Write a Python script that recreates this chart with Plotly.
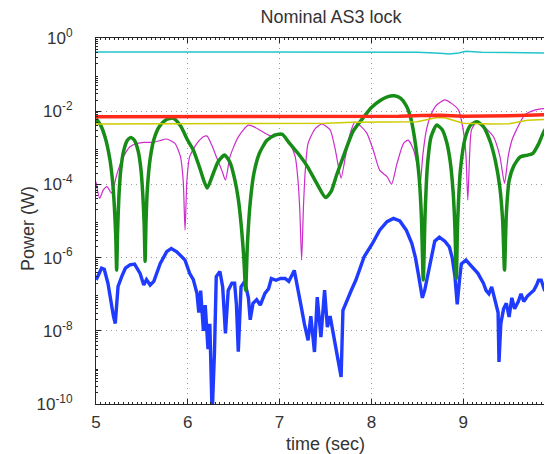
import plotly.graph_objects as go

# ---------------- data (powers as log10 exponents) ----------------
cyan_t = [5.0, 5.5, 6.0, 6.5, 7.0, 7.5, 8.0, 8.5, 8.75, 8.85, 8.95, 9.03, 9.2, 9.5, 9.75, 9.97]
cyan_exp = [-0.38, -0.38, -0.385, -0.38, -0.385, -0.39, -0.39, -0.39, -0.42, -0.44, -0.41, -0.36, -0.39, -0.40, -0.40, -0.41]

red_t = [5.0, 5.5, 6.0, 6.5, 7.0, 7.5, 8.0, 8.3, 8.55, 8.75, 9.0, 9.3, 9.6, 9.97]
red_exp = [-2.15, -2.15, -2.14, -2.15, -2.14, -2.15, -2.15, -2.14, -2.12, -2.11, -2.14, -2.14, -2.12, -2.09]

yellow_t = [5.0, 5.5, 6.0, 6.5, 7.0, 7.5, 7.8, 8.2, 8.5, 8.7, 8.8, 9.0, 9.3, 9.5, 9.7, 9.97]
yellow_exp = [-2.35, -2.35, -2.35, -2.35, -2.35, -2.33, -2.30, -2.30, -2.29, -2.18, -2.18, -2.33, -2.35, -2.34, -2.25, -2.22]

magenta_t = [5.0, 5.04, 5.08, 5.12, 5.17, 5.23, 5.30, 5.37, 5.45, 5.52, 5.62, 5.70, 5.77, 5.86,
             5.92, 5.95, 5.97, 5.99, 6.02, 6.10, 6.17, 6.21, 6.26, 6.31, 6.37, 6.41, 6.46, 6.55,
             6.66, 6.74, 6.84, 6.91, 7.02, 7.11, 7.17, 7.20, 7.22, 7.24, 7.26, 7.28, 7.31, 7.39,
             7.46, 7.55, 7.60, 7.64, 7.67, 7.72, 7.77, 7.82, 7.88, 7.95, 8.02, 8.09, 8.17, 8.22,
             8.28, 8.35, 8.40, 8.46, 8.50, 8.53, 8.56, 8.60, 8.64, 8.71, 8.80, 8.88, 8.95, 9.00,
             9.03, 9.05, 9.07, 9.09, 9.15, 9.22, 9.33, 9.40, 9.45, 9.49, 9.53, 9.58, 9.67, 9.78,
             9.88, 9.97]
magenta_exp = [-3.93, -4.38, -4.15, -4.06, -4.24, -3.70, -3.24, -2.97, -2.88, -2.85, -2.85, -2.80, -2.76, -2.88,
               -3.24, -3.90, -5.25, -3.90, -3.24, -2.88, -2.70, -2.68, -2.92, -3.24, -3.61, -3.88, -3.24, -2.70,
               -2.38, -2.45, -2.60, -2.68, -2.65, -2.88, -3.24, -3.88, -4.70, -6.07, -4.60, -3.61, -2.88, -2.47,
               -2.35, -2.51, -2.97, -3.50, -3.83, -3.20, -2.60, -2.30, -2.40, -2.60, -3.06, -3.61, -3.79, -3.99,
               -3.42, -2.88, -2.79, -3.06, -3.50, -4.02, -3.20, -2.50, -2.15, -1.83, -1.69, -1.80, -1.97, -2.51,
               -3.20, -4.43, -3.20, -2.51, -2.29, -2.40, -2.70, -3.24, -3.97, -3.24, -2.80, -2.51, -2.10, -1.97,
               -1.93, -1.92]

green_t = [5.00, 5.05, 5.10, 5.15, 5.18, 5.20, 5.215, 5.225, 5.235, 5.25, 5.27, 5.30, 5.34, 5.38,
           5.42, 5.46, 5.49, 5.51, 5.525, 5.535, 5.545, 5.56, 5.59, 5.63, 5.69, 5.76, 5.84, 5.92,
           6.00, 6.06, 6.13, 6.21, 6.27, 6.33, 6.40, 6.46, 6.51, 6.55, 6.585, 6.61, 6.63, 6.65,
           6.68, 6.72, 6.78, 6.86, 6.95, 7.03, 7.10, 7.20, 7.30, 7.40, 7.50, 7.56, 7.62, 7.70,
           7.80, 7.92, 8.00, 8.10, 8.18, 8.25, 8.32, 8.38, 8.43, 8.48, 8.52, 8.545, 8.565, 8.585,
           8.61, 8.65, 8.71, 8.77, 8.82, 8.86, 8.89, 8.91, 8.925, 8.94, 8.97, 9.02, 9.08, 9.15,
           9.22, 9.29, 9.35, 9.40, 9.43, 9.45, 9.47, 9.50, 9.55, 9.62, 9.70, 9.76, 9.82, 9.88,
           9.93, 9.97]
green_exp = [-2.20, -2.38, -2.72, -3.30, -3.90, -4.60, -5.40, -6.34, -5.30, -4.30, -3.60, -3.10, -2.80, -2.72,
             -2.80, -3.10, -3.60, -4.30, -5.10, -6.10, -5.00, -4.10, -3.30, -2.78, -2.42, -2.24, -2.19, -2.40,
             -2.80, -3.06, -3.55, -4.10, -3.75, -3.38, -3.20, -3.40, -3.85, -4.40, -5.20, -6.00, -6.89, -5.60,
             -4.50, -3.70, -3.15, -2.80, -2.65, -2.63, -2.85, -3.15, -3.50, -3.95, -4.36, -4.20, -3.75, -3.20,
             -2.55, -2.15, -1.90, -1.70, -1.60, -1.58, -1.65, -1.85, -2.20, -2.90, -3.80, -4.90, -6.61, -4.80,
             -3.50, -2.70, -2.38, -2.50, -2.85, -3.40, -4.20, -5.20, -6.57, -5.00, -3.60, -2.75, -2.38, -2.29,
             -2.42, -2.80, -3.35, -4.10, -5.00, -6.34, -4.80, -3.90, -3.50, -3.25, -3.20, -3.15, -2.90, -2.55,
             -2.38, -2.30]

blue_t = [5.00, 5.01, 5.06, 5.09, 5.13, 5.17, 5.19, 5.21, 5.24, 5.28, 5.32, 5.37, 5.42, 5.48,
          5.52, 5.55, 5.59, 5.63, 5.70, 5.77, 5.82, 5.88, 5.97, 6.02, 6.06, 6.10, 6.12, 6.14,
          6.17, 6.19, 6.22, 6.24, 6.265, 6.29, 6.31, 6.35, 6.38, 6.41, 6.44, 6.48, 6.51, 6.53,
          6.55, 6.58, 6.62, 6.66, 6.68, 6.71, 6.75, 6.79, 6.84, 6.88, 6.91, 6.96, 7.01, 7.06,
          7.10, 7.16, 7.21, 7.24, 7.27, 7.31, 7.34, 7.38, 7.41, 7.45, 7.49, 7.52, 7.55, 7.60,
          7.63, 7.67, 7.69, 7.74, 7.78, 7.83, 7.92, 8.01, 8.09, 8.17, 8.24, 8.31, 8.38, 8.44,
          8.48, 8.51, 8.53, 8.555, 8.58, 8.61, 8.64, 8.69, 8.74, 8.80, 8.85, 8.88, 8.91, 8.935,
          8.96, 8.98, 9.03, 9.10, 9.16, 9.22, 9.25, 9.28, 9.31, 9.35, 9.38, 9.39, 9.41, 9.44,
          9.47, 9.50, 9.53, 9.56, 9.60, 9.63, 9.66, 9.70, 9.74, 9.77, 9.80, 9.82, 9.85, 9.88,
          9.92, 9.97]
blue_exp = [-6.60, -6.57, -6.29, -6.32, -6.70, -7.34, -7.60, -7.80, -6.79, -6.52, -6.29, -6.20, -6.18, -6.43,
            -6.75, -6.60, -6.75, -6.65, -6.16, -5.84, -5.75, -5.84, -6.07, -6.43, -6.60, -6.98, -7.50, -6.90,
            -8.00, -7.30, -8.50, -7.81, -10.3, -8.63, -6.52, -6.38, -6.80, -8.07, -6.90, -6.70, -6.70, -7.30,
            -8.57, -6.80, -6.65, -7.10, -7.70, -7.25, -7.15, -7.30, -6.98, -6.85, -6.57, -6.62, -6.57, -6.57,
            -6.65, -6.35, -6.94, -7.40, -7.81, -8.26, -7.60, -8.58, -7.08, -8.17, -6.89, -7.90, -7.60, -8.35,
            -8.72, -9.26, -7.44, -7.17, -6.90, -6.62, -5.98, -5.62, -5.25, -5.02, -4.93, -5.00, -5.25, -5.61,
            -6.00, -6.43, -6.80, -7.10, -6.90, -6.50, -6.10, -5.55, -5.44, -5.55, -5.71, -6.00, -6.52, -7.28,
            -6.60, -6.17, -6.07, -6.26, -6.43, -6.70, -6.90, -6.99, -6.80, -7.20, -7.50, -8.85, -7.80, -7.40,
            -7.25, -7.62, -7.10, -7.40, -7.20, -6.99, -7.20, -7.05, -6.95, -6.89, -6.75, -6.62, -6.62, -6.85,
            -6.75, -6.62]

y_tick_exps = [0, -2, -4, -6, -8, -10]
x_tick_vals = [5, 6, 7, 8, 9]


def watts(exps):
    return [10.0 ** e for e in exps]


FONT = "Liberation Sans, Arial, Helvetica, sans-serif"
TXT = "#333333"
AX = "#262626"
GRID = "#9a9a9a"

# The page body keeps its default 8px margin, so the figure is laid out 8px in.
OFF = 8
W, H = 552 - OFF, 454 - OFF
PL, PT, PB = 96 - OFF, 38 - OFF, 454 - 404   # plot area: x 96..552, y 38..404 on the page

fig = go.Figure()
series = [
    (blue_t, blue_exp, "#1f3bff", 3.4, "linear"),
    (magenta_t, magenta_exp, "#cc2ccc", 1.2, "spline"),
    (green_t, green_exp, "#178c17", 3.5, "spline"),
    (yellow_t, yellow_exp, "#cccc00", 1.5, "linear"),
    (red_t, red_exp, "#ff2a1a", 3.5, "linear"),
    (cyan_t, cyan_exp, "#22c4cc", 1.5, "linear"),
]
for t, e, c, w, shp in series:
    ln = dict(color=c, width=w, shape=shp)
    if shp == "spline":
        ln["smoothing"] = 0.6
    fig.add_trace(go.Scatter(x=t, y=watts(e), mode="lines", line=ln,
                             showlegend=False, hoverinfo="skip"))

x_right = 5 + 456 / 91.8

minor_y = [m * 10.0 ** k for k in range(-10, 0) for m in range(2, 10)]
minor_x = [5 + i * 0.05 for i in range(1, 100) if i % 20 != 0]

fig.update_layout(
    width=W, height=H,
    margin=dict(l=PL, r=0, t=PT, b=PB, pad=0),
    paper_bgcolor="white", plot_bgcolor="white",
    font=dict(family=FONT, size=17, color=TXT),
    title=dict(text="Nominal AS3 lock", x=(331 - 96) / 456, xref="paper",
               xanchor="center", y=1 - (16.5 - OFF) / H, yanchor="middle",
               font=dict(size=18, color=TXT, family=FONT)),
    xaxis=dict(range=[5, x_right], tickvals=x_tick_vals, ticktext=[str(v) for v in x_tick_vals],
               showgrid=True, gridcolor=GRID, griddash="1px,4px", gridwidth=1,
               ticks="inside", ticklen=5, tickcolor=AX, showline=True, linecolor=AX,
               linewidth=1, mirror="ticks", zeroline=False, ticklabelstandoff=3,
               tickfont=dict(size=17, color=TXT),
               minor=dict(tickvals=minor_x, ticks="inside", ticklen=2, tickcolor=AX, showgrid=False)),
    yaxis=dict(type="log", range=[-10, 0],
               tickvals=[10.0 ** k for k in y_tick_exps],
               ticktext=["10<sup>%d</sup>" % k for k in y_tick_exps],
               showgrid=True, gridcolor=GRID, griddash="1px,4px", gridwidth=1,
               ticks="inside", ticklen=5, tickcolor=AX, showline=True, linecolor=AX,
               linewidth=1, mirror="ticks", zeroline=False, ticklabelstandoff=19,
               tickfont=dict(size=17, color=TXT),
               minor=dict(tickvals=minor_y, ticks="inside", ticklen=2, tickcolor=AX, showgrid=False)),
    annotations=[
        dict(text="time (sec)", xref="paper", yref="paper", x=(325 - 96) / 456, y=0,
             yshift=-40, xanchor="center", yanchor="middle", showarrow=False,
             font=dict(size=18, color=TXT, family=FONT)),
        dict(text="Power (W)", xref="paper", yref="paper", x=0, xshift=-68,
             y=(404 - 229) / 366, xanchor="center", yanchor="middle", textangle=-90,
             showarrow=False, font=dict(size=18, color=TXT, family=FONT)),
        dict(text="10", xref="paper", yref="paper", x=459 / 456, y=0, yshift=-17.5,
             xanchor="center", yanchor="middle", showarrow=False,
             font=dict(size=17, color=TXT, family=FONT)),
    ],
)

fig.write_html("out.html")
